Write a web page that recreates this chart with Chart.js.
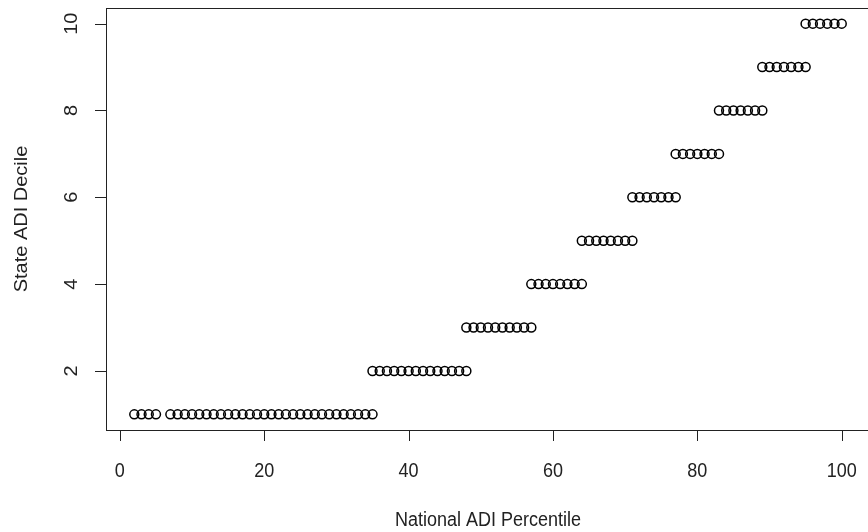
<!DOCTYPE html>
<html>
<head>
<meta charset="utf-8">
<script src="https://cdn.jsdelivr.net/npm/chart.js@4/dist/chart.umd.min.js"></script>
<style>
    html, body { margin: 0; padding: 0; background: #fff; overflow: hidden; }
    #wrap { width: 880px; height: 532px; }
</style>
</head>
<body>
<div id="wrap"><canvas id="adiChart" width="880" height="532"></canvas></div>
<script>
// National ADI percentiles that fall in each state ADI decile
const decile1 = [2, 3, 4, 5, 7, 8, 9, 10, 11, 12, 13, 14, 15, 16, 17, 18, 19, 20, 21, 22, 23, 24, 25, 26, 27, 28, 29, 30, 31, 32, 33, 34, 35];
const decile2 = [35, 36, 37, 38, 39, 40, 41, 42, 43, 44, 45, 46, 47, 48];
const decile3 = [48, 49, 50, 51, 52, 53, 54, 55, 56, 57];
const decile4 = [57, 58, 59, 60, 61, 62, 63, 64];
const decile5 = [64, 65, 66, 67, 68, 69, 70, 71];
const decile6 = [71, 72, 73, 74, 75, 76, 77];
const decile7 = [77, 78, 79, 80, 81, 82, 83];
const decile8 = [83, 84, 85, 86, 87, 88, 89];
const decile9 = [89, 90, 91, 92, 93, 94, 95];
const decile10 = [95, 96, 97, 98, 99, 100];

const xTicks = [0, 20, 40, 60, 80, 100];
const yTicks = [2, 4, 6, 8, 10];
const xTitle = 'National ADI Percentile';
const yTitle = 'State ADI Decile';

// build scatter points from the decile lists
function buildPoints() {
    const groups = [decile1, decile2, decile3, decile4, decile5, decile6, decile7, decile8, decile9, decile10];
    const pts = [];
    groups.forEach((g, i) => {
        g.forEach(p => pts.push({ x: p, y: i + 1 }));
    });
    return pts;
}

const font = '20px "Liberation Sans", Arial, sans-serif';
const squeeze = 0.9; // the reference text looks a bit narrow

// text helper: draws squeezed text, optionally rotated
function drawText(ctx, txt, x, y, rot) {
    ctx.save();
    ctx.translate(x, y);
    ctx.scale(squeeze, 1);
    if (rot) ctx.rotate(rot);
    ctx.fillText(txt, 0, 0);
    ctx.restore();
}

// R style box, axes and labels
const baseAxes = {
    id: 'baseAxes',
    afterDraw(chart) {
        const ctx = chart.ctx;
        const a = chart.chartArea;
        const xs = chart.scales.x;
        const ys = chart.scales.y;
        ctx.save();
        ctx.strokeStyle = '#222';
        ctx.lineWidth = 1;
        ctx.strokeRect(a.left + 0.5, a.top + 0.5, a.right - a.left, a.bottom - a.top);

        ctx.fillStyle = '#222';
        ctx.font = font;
        ctx.textAlign = 'center';
        ctx.textBaseline = 'middle';

        // x axis
        const x0 = xs.getPixelForValue(xTicks[0]);
        const x1 = xs.getPixelForValue(xTicks[xTicks.length - 1]);
        ctx.beginPath();
        ctx.moveTo(x0, a.bottom + 0.5);
        ctx.lineTo(x1, a.bottom + 0.5);
        xTicks.forEach(t => {
            const px = Math.round(xs.getPixelForValue(t)) + 0.5;
            ctx.moveTo(px, a.bottom);
            ctx.lineTo(px, a.bottom + 11);
        });
        ctx.stroke();
        xTicks.forEach(t => {
            drawText(ctx, String(t), xs.getPixelForValue(t), a.bottom + 41);
        });
        drawText(ctx, xTitle, (a.left + a.right) / 2, a.bottom + 90);

        // y axis
        const y0 = ys.getPixelForValue(yTicks[0]);
        const y1 = ys.getPixelForValue(yTicks[yTicks.length - 1]);
        ctx.beginPath();
        ctx.moveTo(a.left + 0.5, y0);
        ctx.lineTo(a.left + 0.5, y1);
        yTicks.forEach(t => {
            const py = Math.round(ys.getPixelForValue(t)) + 0.5;
            ctx.moveTo(a.left, py);
            ctx.lineTo(a.left - 11, py);
        });
        ctx.stroke();
        yTicks.forEach(t => {
            drawText(ctx, String(t), a.left - 34, ys.getPixelForValue(t), -Math.PI / 2);
        });
        drawText(ctx, yTitle, a.left - 84, (a.top + a.bottom) / 2, -Math.PI / 2);
        ctx.restore();
    }
};

const ctx = document.getElementById('adiChart').getContext('2d');
const chart = new Chart(ctx, {
    type: 'scatter',
    data: {
        datasets: [{
            data: buildPoints(),
            pointRadius: 4.5,
            pointBorderWidth: 1.5,
            borderColor: '#000',
            backgroundColor: 'rgba(0,0,0,0)',
            pointHoverRadius: 4.5
        }]
    },
    options: {
        responsive: false,
        animation: false,
        devicePixelRatio: 1,
        layout: { padding: { left: 106, right: 10, top: 8, bottom: 102 } },
        scales: {
            x: { type: 'linear', display: false, min: -1.92, max: 103.92 },
            y: { type: 'linear', display: false, min: 0.64, max: 10.36 }
        },
        plugins: {
            legend: { display: false },
            tooltip: { enabled: false }
        }
    },
    plugins: [baseAxes]
});
</script>
</body>
</html>
